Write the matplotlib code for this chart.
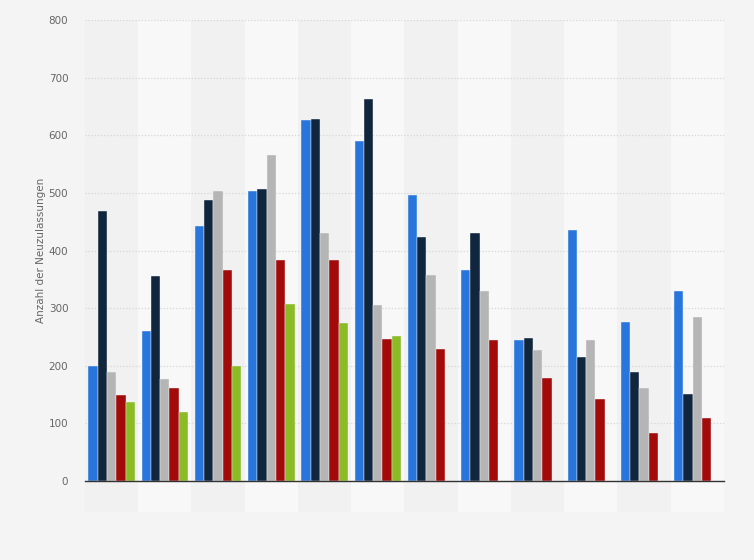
import numpy as np
import matplotlib.pyplot as plt
from matplotlib.patches import Rectangle

# Monthly new registrations, five years (last year only first half)
months = list(range(12))
series_a = [200, 260, 442, 504, 627, 591, 497, 366, 244, 436, 276, 330]
series_b = [468, 356, 488, 507, 629, 663, 424, 431, 248, 216, 189, 151]
series_c = [190, 177, 504, 566, 431, 306, 358, 330, 227, 244, 161, 285]
series_d = [150, 161, 366, 384, 384, 246, 229, 244, 178, 142, 83, 110]
series_e = [138, 119, 200, 307, 274, 251]

colors = ['#2876dd', '#10263e', '#b5b5b5', '#a30b0b', '#8bbb25']
yticks = [0, 100, 200, 300, 400, 500, 600, 700, 800]

fig = plt.figure(figsize=(7.54, 5.6), dpi=100)
fig.patch.set_facecolor('#f4f4f4')
ax = fig.add_axes([0.1127, 0.141, 0.8475, 0.823])
ax.set_facecolor('#f4f4f4')

# alternating column bands, running a little below the axis
for i in months:
    shade = '#f1f1f1' if i % 2 == 0 else '#f8f8f8'
    ax.add_patch(Rectangle((i - 0.5, -0.067), 1, 1.067, transform=ax.get_xaxis_transform(),
                           facecolor=shade, edgecolor='none', zorder=0, clip_on=False))

width = 0.174
all_series = [series_a, series_b, series_c, series_d, series_e]
for k, vals in enumerate(all_series):
    x = np.arange(len(vals)) + (k - 2) * width
    ax.bar(x, vals, width=width, color=colors[k], edgecolor='#f4f4f4', linewidth=0.3, zorder=3)

ax.set_xlim(-0.5, 11.5)
ax.set_ylim(0, 800)
ax.set_yticks(yticks)
ax.set_xticks([])
ax.yaxis.grid(True, linestyle=(0, (1, 1.5)), color='#d6d6d6', linewidth=0.9, zorder=1)
ax.tick_params(axis='y', length=0, colors='#666666', labelsize=7.5, pad=12)
for side in ['top', 'right', 'left']:
    ax.spines[side].set_visible(False)
ax.spines['bottom'].set_color('#333333')
ax.spines['bottom'].set_linewidth(1.0)
ax.spines['bottom'].set_zorder(4)
ax.set_ylabel('Anzahl der Neuzulassungen', color='#666666', fontsize=7.5, labelpad=2)

fig.savefig('out.png', dpi=100, facecolor=fig.get_facecolor())
